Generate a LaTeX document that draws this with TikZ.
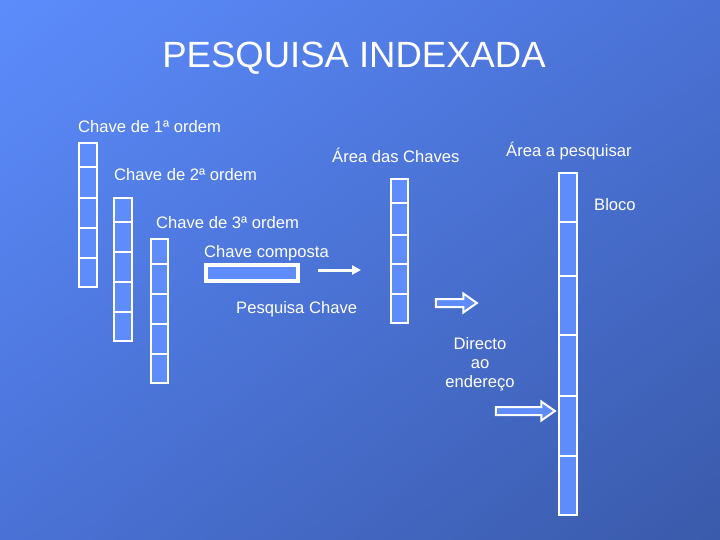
\documentclass[tikz,border=0pt]{standalone}
\usepackage{fontspec}
\setmainfont{Liberation Sans}
\usepackage{tikz}
\usetikzlibrary{arrows.meta, shapes.arrows, fit, shadings}
\definecolor{bgtop}{RGB}{92,140,252}
\definecolor{bgmid}{RGB}{74,114,214}
\definecolor{bgbot}{RGB}{58,90,170}
\definecolor{cellblue}{RGB}{94,140,250}

\begin{document}
\begin{tikzpicture}[x=1pt, y=-1pt,
        lbl/.style={text=white, inner sep=0pt, anchor=base west, font=\fontsize{16.6}{19}\selectfont},
        col/.style={draw=white, line width=2pt, fill=cellblue, inner sep=0pt},
        sep/.style={white, line width=2pt},
        blk/.style={single arrow, draw=white, line width=2pt, fill=cellblue, inner sep=3pt,
            minimum width=17pt, single arrow head extend=5.5pt, single arrow tip angle=70},
    ]
        \shade[upper left=bgtop, lower right=bgbot, upper right=bgmid, lower left=bgmid] (0,0) rectangle (720,540);
        \useasboundingbox (0,0) rectangle (720,540);
        \node[text=white, anchor=base, font=\fontsize{36.5}{42}\selectfont] (title) at (354,68) {PESQUISA INDEXADA};
        % colunas de chaves
        \node[col, fit={(79,143) (97,287)}]   (k1) {};
        \node[col, fit={(114,198) (132,341)}] (k2) {};
        \node[col, fit={(151,239) (168,383)}] (k3) {};
        \node[col, fit={(391,179) (408,323)}] (ac) {};
        \node[col, fit={(559,173) (577,515)}] (ap) {};
        \foreach \y in {167,198,228,258} { \draw[sep] (k1.west|-0,\y) -- (k1.east|-0,\y); }
        \foreach \y in {222,252,282,312} { \draw[sep] (k2.west|-0,\y) -- (k2.east|-0,\y); }
        \foreach \y in {264,294,324,354} { \draw[sep] (k3.west|-0,\y) -- (k3.east|-0,\y); }
        \foreach \y in {203,235,264,294} { \draw[sep] (ac.west|-0,\y) -- (ac.east|-0,\y); }
        \foreach \y in {222,276,335,396,456} { \draw[sep] (ap.west|-0,\y) -- (ap.east|-0,\y); }
        % chave composta
        \node[col, fill=none, fit={(205,264) (299,282)}] (ck) {};
        \draw[white, line width=1.2pt, fill=cellblue] ([shift={(3,3)}]ck.north west) rectangle ([shift={(-3,-3)}]ck.south east);
        \coordinate (s1) at (318,270);
        \coordinate (s2) at (361,270);
        \draw[white, line width=3pt, -{Triangle[length=9pt, width=9pt]}] (s1) -- (s2);
        \node[blk, minimum height=41pt] (b1) at (453.5,303) {};
        \node[blk, minimum height=59pt] (b2) at (522.5,411) {};
        % textos
        \node[lbl] (t1) at (78,133)  {Chave de 1ª ordem};
        \node[lbl] (t2) at (114,181) {Chave de 2ª ordem};
        \node[lbl] (t3) at (156,229) {Chave de 3ª ordem};
        \node[lbl] (tc) at (204,258) {Chave composta};
        \node[lbl] (tp) at (236,313) {Pesquisa Chave};
        \node[lbl] (ta) at (332,163) {Área das Chaves};
        \node[lbl] (tq) at (506,157) {Área a pesquisar};
        \node[lbl] (tb) at (594,211) {Bloco};
        \node[lbl, anchor=north, align=center] (td) at (480,337) {Directo\\ao\\endereço};
    \end{tikzpicture}
\end{document}
